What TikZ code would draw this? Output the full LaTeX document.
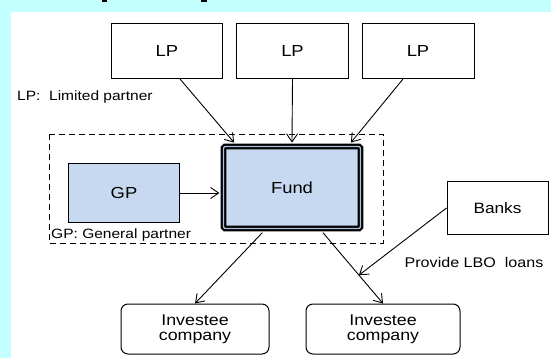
\documentclass[tikz,border=0pt]{standalone}
\usepackage{fontspec}
\setmainfont[FakeStretch=1.15]{Liberation Sans}
\usetikzlibrary{arrows.meta,calc}
\definecolor{bgcyan}{HTML}{C4FFFF}
\definecolor{boxblue}{HTML}{C6D9F0}
\definecolor{gapblue}{HTML}{A9BFDA}
\tikzset{
  plain/.style={draw=black,line width=1pt,inner sep=0pt,fill=white},
  bluebox/.style={plain,fill=boxblue},
  invbox/.style={plain,rounded corners=7pt,align=center,font=\fontsize{15.5}{15}\selectfont},
  lbl/.style={inner sep=0pt,font=\fontsize{13.5}{14}\selectfont},
  big/.style={font=\fontsize{16}{16}\selectfont},
  arr/.style={line width=0.9pt,-{Straight Barb[length=8pt,width=11pt,line width=0.9pt]}},
}
\begin{document}
\begin{tikzpicture}[x=1pt,y=-1pt]
\fill[bgcyan] (0,0) rectangle (551,358);
\fill[white] (11,12) rectangle (551,358);
\useasboundingbox (0,0) rectangle (551,358);
\fill[black] (102,0) rectangle (107,2);
\fill[black] (201,0) rectangle (207,2);

\node[plain,big,minimum width=111pt,minimum height=55pt] (lp1) at (167,51) {LP};
\node[plain,big,minimum width=112pt,minimum height=55pt] (lp2) at (292.5,51) {LP};
\node[plain,big,minimum width=112pt,minimum height=55pt] (lp3) at (418,51) {LP};
\node[lbl,anchor=west] (lplbl) at (17,97) {LP:\ \ Limited partner};

\draw[dashed,line width=0.9pt,dash pattern=on 6pt off 4pt] (49,134) rectangle (383,243);
\node[bluebox,big,minimum width=111pt,minimum height=58pt] (gp) at (124,193) {GP};
\node[draw=black,fill=boxblue,big,line width=2.2pt,double=gapblue,double distance=1.3pt,rounded corners=1.5pt,minimum width=137pt,minimum height=82pt,inner sep=0pt] (fund) at (292,187.5) {Fund};
\node[lbl,anchor=west] (gplbl) at (51,235) {GP:\ General partner};

\node[plain,minimum width=101pt,minimum height=52pt,font=\fontsize{15}{15}\selectfont] (banks) at (497.5,208) {Banks};
\node[lbl,font=\fontsize{14}{14}\selectfont] (lbo) at (474,262) {Provide LBO\ \ loans};

\node[invbox,minimum width=148pt,minimum height=50pt] (inv1) at (195,329) {Investee\\company};
\node[invbox,minimum width=154pt,minimum height=50pt] (inv2) at (383,329) {Investee\\company};

\draw[arr] ($(lp1.south)+(13,0)$) -- ($(fund.north west)+(11.7,-2.8)$);
\draw[arr] (lp2.south) -- ($(fund.north)+(0,-2.8)$);
\draw[arr] ($(lp3.south)+(-15,0)$) -- ($(fund.north east)+(-10.7,-2.8)$);
\draw[arr] (gp.east) -- ($(gp.east -| fund.west)+(-3,0)$);
\coordinate (fs1) at ($(fund.south west)+(40,3)$);
\coordinate (fs2) at ($(fund.south east)+(-38.7,3)$);
\draw[arr] (fs1) -- (inv1.north);
\draw[arr] (fs2) -- (inv2.north);
\draw[arr] (banks.west) -- ($(fs2)!0.6!(inv2.north)$);
\end{tikzpicture}
\end{document}
